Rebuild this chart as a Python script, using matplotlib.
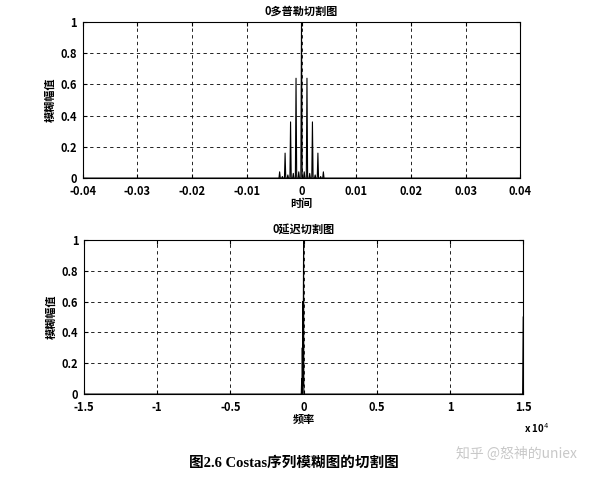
import numpy as np
import matplotlib
matplotlib.use('Agg')
import matplotlib.pyplot as plt

plt.rcParams['font.family'] = ['Noto Sans CJK SC', 'DejaVu Sans']
plt.rcParams['axes.unicode_minus'] = False

# 0多普勒切割图: spike positions (s) and heights
peak_t = [-0.004, -0.0035, -0.003, -0.0025, -0.002, -0.0015, -0.001, -0.0005,
          0.0, 0.0005, 0.001, 0.0015, 0.002, 0.0025, 0.003, 0.0035, 0.004]
peak_a = [0.04, 0.01, 0.16, 0.02, 0.36, 0.03, 0.64, 0.04,
          1.0, 0.04, 0.64, 0.03, 0.36, 0.02, 0.16, 0.01, 0.04]

# 0延迟切割图: frequency (Hz) and amplitude
freq = [-15000, -160, -130, -110, -90, -70, -50, -35, -20, 0, 15, 40, 14960, 15000]
amp = [0.0, 0.0, 0.1, 0.0, 0.3, 0.05, 0.6, 0.1, 0.5, 1.0, 0.0, 0.0, 0.0, 0.5]

top_xticks = [-0.04, -0.03, -0.02, -0.01, 0, 0.01, 0.02, 0.03, 0.04]
top_xlabels = ['-0.04', '-0.03', '-0.02', '-0.01', '0', '0.01', '0.02', '0.03', '0.04']
bot_xticks = [-15000, -10000, -5000, 0, 5000, 10000, 15000]
bot_xlabels = ['-1.5', '-1', '-0.5', '0', '0.5', '1', '1.5']
yticks = [0, 0.2, 0.4, 0.6, 0.8, 1]
ylabels = ['0', '0.2', '0.4', '0.6', '0.8', '1']

# build spike traces
w = 0.00012
t = [-0.04]
a = [0.0]
for p, h in zip(peak_t, peak_a):
    t += [p - w, p, p + w]
    a += [0.0, h, 0.0]
t.append(0.04)
a.append(0.0)

fig = plt.figure(figsize=(6, 4.8), dpi=100)
ax1 = fig.add_axes([0.138, 0.629, 0.729, 0.325])
ax2 = fig.add_axes([0.140, 0.179, 0.732, 0.321])

ax1.plot(t, a, color='black', linewidth=0.8)
ax1.set_xlim(-0.04, 0.04)
ax1.set_ylim(0, 1)
ax1.set_xticks(top_xticks)
ax1.set_xticklabels(top_xlabels)
ax1.set_title('0多普勒切割图', fontsize=8, fontweight='bold', pad=5)
ax1.set_xlabel('时间', fontsize=8, fontweight='bold', labelpad=-1)

ax2.plot(freq, amp, color='black', linewidth=0.8)
ax2.set_xlim(-15000, 15000)
ax2.set_ylim(0, 1)
ax2.set_xticks(bot_xticks)
ax2.set_xticklabels(bot_xlabels)
ax2.set_title('0延迟切割图', fontsize=8, fontweight='bold', pad=5)
ax2.set_xlabel('频率', fontsize=8, fontweight='bold', labelpad=-1)
ax2.text(1.03, -0.22, r'x 10$^{4}$', transform=ax2.transAxes, fontsize=7,
         fontweight='bold', ha='center', va='center')

for ax in (ax1, ax2):
    ax.set_yticks(yticks)
    ax.set_yticklabels(ylabels)
    ax.set_ylabel('模糊幅值', fontsize=8, fontweight='bold', labelpad=3)
    ax.grid(True, linestyle=(0, (4, 4)), color='black', linewidth=0.6)
    ax.tick_params(direction='in', length=3, labelsize=8, top=True, right=True)
    ax.tick_params(axis='x', pad=5)
    ax.tick_params(axis='y', pad=4)
    for lab in ax.get_xticklabels() + ax.get_yticklabels():
        lab.set_fontweight('bold')
    for s in ax.spines.values():
        s.set_linewidth(0.8)

fig.text(0.49, 0.035, '图2.6 Costas序列模糊图的切割图',
         family=['Liberation Serif', 'Noto Sans CJK SC'], fontsize=10.5,
         fontweight='bold', ha='center', va='center')
fig.text(0.86, 0.055, '知乎 @怒神的uniex', color='#c8c8c8', fontsize=10,
         ha='center', va='center')

fig.savefig('out.png', dpi=100)
